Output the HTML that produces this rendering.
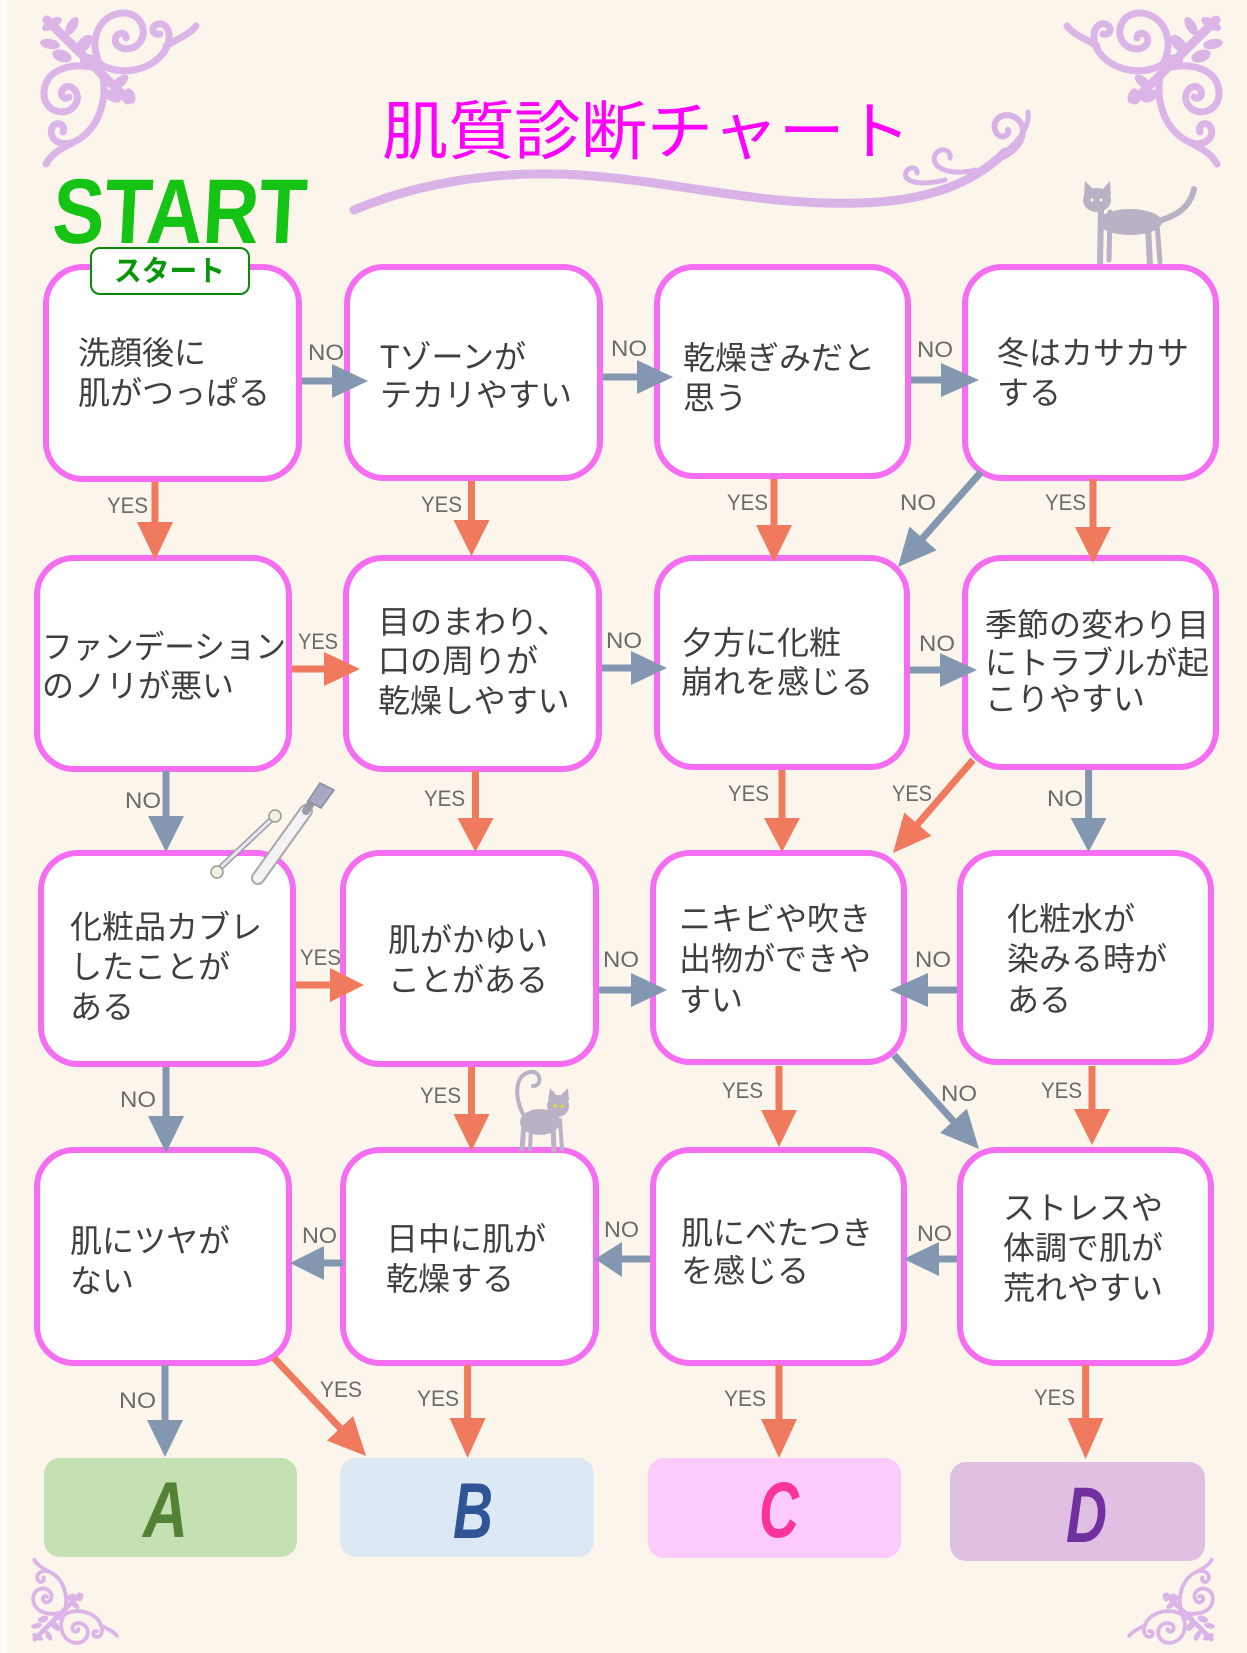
<!DOCTYPE html>
<html><head><meta charset="utf-8"><style>
html,body{margin:0;padding:0;background:#fcf5eb;}
svg{display:block;}
.q{font-family:"Liberation Sans","Noto Sans CJK JP",sans-serif;font-size:32px;fill:#3f3f3f;}
.l{font-family:"Liberation Sans",sans-serif;font-size:22px;fill:#6b6b6b;}
</style></head><body>
<svg width="1247" height="1653" viewBox="0 0 1247 1653" xmlns="http://www.w3.org/2000/svg">
<rect x="0" y="0" width="1247" height="1653" fill="#fcf5eb"/>
<rect x="0" y="0" width="7" height="1653" fill="#fffdf8"/>

<defs>
<g id="orn">
 <g fill="none" stroke="#dcb5e8" stroke-width="7" stroke-linecap="round">
  <path d="M100 64 C88 42 98 15 122 13 C143 12 150 36 136 46 C125 53 112 46 116 37 C119 31 127 33 126 38"/>
  <path d="M100 64 C118 76 150 72 164 52 C174 37 168 22 158 24 C150 26 152 36 160 34"/>
  <path d="M166 46 C178 38 188 36 196 26"/>
  <path d="M102 70 C82 62 46 64 44 92 C43 112 66 118 75 105 C82 95 72 82 64 88 C58 94 64 101 69 97"/>
  <path d="M102 72 C108 98 100 128 76 141 C62 148 48 140 52 128 C56 120 66 124 63 132"/>
  <path d="M72 143 C58 150 50 156 46 164"/>
  <path d="M47 20 L128 100" stroke-width="9"/>
 </g>
 <g fill="#dcb5e8">
  <ellipse cx="52" cy="24" rx="11" ry="5" transform="rotate(-30 52 24)"/>
  <ellipse cx="72" cy="26" rx="10" ry="5" transform="rotate(-60 72 26)"/>
  <ellipse cx="50" cy="44" rx="10" ry="5" transform="rotate(10 50 44)"/>
  <ellipse cx="84" cy="44" rx="11" ry="6" transform="rotate(-50 84 44)"/>
  <ellipse cx="62" cy="56" rx="10" ry="6" transform="rotate(20 62 56)"/>
  <ellipse cx="88" cy="60" rx="8" ry="6"/>
  <ellipse cx="120" cy="82" rx="10" ry="5" transform="rotate(-40 120 82)"/>
  <ellipse cx="112" cy="96" rx="10" ry="5" transform="rotate(30 112 96)"/>
  <ellipse cx="130" cy="96" rx="8" ry="5" transform="rotate(70 130 96)"/>
 </g>
</g>
</defs>
<use href="#orn"/>
<use href="#orn" transform="translate(1263 0) scale(-1 1)"/>
<use href="#orn" transform="translate(9 1650) scale(0.55 -0.55)"/>
<use href="#orn" transform="translate(1237 1650) scale(-0.55 -0.55)"/>

<!-- title swoosh -->
<g fill="none" stroke="#d9b3e7" stroke-linecap="round">
 <path d="M354 210 C420 182 500 170 580 175 C680 182 760 206 860 203 C930 201 975 182 1005 152" stroke-width="9"/>
 <path d="M1000 158 C1022 150 1030 128 1016 118 C1004 110 990 120 996 132 C1000 140 1010 136 1008 130" stroke-width="6"/>
 <path d="M975 170 C950 176 930 168 935 155 C940 146 952 150 950 158" stroke-width="5"/>
 <path d="M945 180 C920 186 902 182 906 172 C910 165 918 168 917 173" stroke-width="5"/>
 <path d="M1005 152 C1020 140 1030 125 1028 112" stroke-width="5"/>
</g>

<!-- Title -->
<text x="382" y="127" dominant-baseline="central" font-family="'Noto Sans CJK JP',sans-serif" font-size="64" fill="#ff00ff" textLength="529" lengthAdjust="spacingAndGlyphs">肌質診断チャート</text>

<!-- START -->
<text x="52" y="243" font-family="'Liberation Sans',sans-serif" font-weight="bold" font-size="92" fill="#14c314" textLength="254" lengthAdjust="spacingAndGlyphs" transform="translate(12 0) skewX(-3)">START</text>

<!-- cat 1 -->
<g fill="#b9b1c4" stroke="#b9b1c4" stroke-linecap="round">
 <path d="M1156 222 C1176 216 1190 208 1194 189" fill="none" stroke-width="6"/>
 <ellipse cx="1130" cy="222" rx="32" ry="13" stroke="none"/>
 <ellipse cx="1097" cy="200" rx="14" ry="12" stroke="none"/>
 <polygon points="1084,196 1085,181 1094,190" stroke="none"/>
 <polygon points="1102,190 1110,181 1111,196" stroke="none"/>
 <line x1="1101" y1="210" x2="1100" y2="263" stroke-width="6"/>
 <line x1="1110" y1="212" x2="1109" y2="260" stroke-width="5"/>
 <line x1="1148" y1="226" x2="1150" y2="266" stroke-width="6"/>
 <line x1="1157" y1="224" x2="1160" y2="262" stroke-width="5"/>
</g>
<circle cx="1092" cy="200" r="1.5" fill="#fff"/><circle cx="1101" cy="200" r="1.5" fill="#fff"/>

<!-- boxes -->
<g fill="#ffffff" stroke="#f56ef1" stroke-width="6">
 <rect x="46" y="267" width="253" height="212" rx="37"/>
 <rect x="347" y="267" width="253" height="211" rx="37"/>
 <rect x="657" y="267" width="251" height="209" rx="37"/>
 <rect x="965" y="267" width="251" height="211" rx="37"/>
 <rect x="37" y="558" width="252" height="211" rx="37"/>
 <rect x="346" y="558" width="253" height="211" rx="37"/>
 <rect x="657" y="558" width="250" height="209" rx="37"/>
 <rect x="965" y="558" width="251" height="209" rx="37"/>
 <rect x="41" y="853" width="252" height="211" rx="37"/>
 <rect x="343" y="853" width="253" height="211" rx="37"/>
 <rect x="653" y="853" width="251" height="209" rx="37"/>
 <rect x="960" y="853" width="251" height="209" rx="37"/>
 <rect x="37" y="1150" width="252" height="213" rx="37"/>
 <rect x="343" y="1150" width="253" height="213" rx="37"/>
 <rect x="653" y="1150" width="251" height="213" rx="37"/>
 <rect x="960" y="1150" width="251" height="213" rx="37"/>
</g>

<!-- start tag -->
<rect x="91" y="248" width="158" height="46" rx="9" fill="#ffffff" stroke="#0a8a0a" stroke-width="2"/>
<text x="114" y="269" dominant-baseline="central" font-family="'Noto Sans CJK JP',sans-serif" font-weight="bold" font-size="29" fill="#0a960a" textLength="111" lengthAdjust="spacingAndGlyphs">スタート</text>

<!-- tools -->
<g stroke-linecap="round">
 <line x1="258" y1="878" x2="306" y2="811" stroke="#a8a8a8" stroke-width="14"/>
 <line x1="258" y1="878" x2="306" y2="811" stroke="#f4f2f4" stroke-width="10"/>
 <line x1="306" y1="811" x2="313" y2="800" stroke="#9a9aa8" stroke-width="8"/>
 <polygon points="308,801 320,783 334,790 321,808" fill="#a9a8c2" stroke="#8a8aa0" stroke-width="1.5"/>
 <line x1="220" y1="868" x2="273" y2="818" stroke="#9a9aa8" stroke-width="6"/>
 <line x1="220" y1="868" x2="273" y2="818" stroke="#e8e6ee" stroke-width="3"/>
 <circle cx="217" cy="872" r="6" fill="#f3f0e0" stroke="#999" stroke-width="1.5"/>
 <circle cx="275" cy="816" r="6" fill="#f3f0e0" stroke="#999" stroke-width="1.5"/>
</g>

<!-- cat 2 -->
<g fill="#b9b1c4" stroke="#b9b1c4" stroke-linecap="round">
 <path d="M523 1114 C514 1095 515 1075 530 1072 C541 1070 543 1086 533 1086" fill="none" stroke-width="4"/>
 <ellipse cx="540" cy="1122" rx="20" ry="13" stroke="none"/>
 <circle cx="558" cy="1106" r="11" stroke="none"/>
 <polygon points="548,1100 550,1088 557,1096" stroke="none"/>
 <polygon points="560,1096 568,1088 569,1101" stroke="none"/>
 <line x1="524" y1="1124" x2="522" y2="1149" stroke-width="5"/>
 <line x1="531" y1="1128" x2="530" y2="1149" stroke-width="4"/>
 <line x1="553" y1="1124" x2="554" y2="1150" stroke-width="5"/>
 <line x1="560" y1="1120" x2="562" y2="1149" stroke-width="4"/>
</g>
<circle cx="555" cy="1106" r="1.6" fill="#e8e020"/><circle cx="562" cy="1106" r="1.6" fill="#e8e020"/>

<!-- question text -->
<text class="q" dominant-baseline="central">
 <tspan x="78" y="353">洗顔後に</tspan><tspan x="78" y="393">肌がつっぱる</tspan>
 <tspan x="380" y="357">Tゾーンが</tspan><tspan x="380" y="395">テカリやすい</tspan>
 <tspan x="683" y="358">乾燥ぎみだと</tspan><tspan x="683" y="398">思う</tspan>
 <tspan x="997" y="353">冬はカサカサ</tspan><tspan x="997" y="393">する</tspan>
 <tspan x="42" y="647" textLength="244" lengthAdjust="spacingAndGlyphs">ファンデーション</tspan><tspan x="42" y="686">のノリが悪い</tspan>
 <tspan x="378" y="622">目のまわり、</tspan><tspan x="378" y="661">口の周りが</tspan><tspan x="378" y="701">乾燥しやすい</tspan>
 <tspan x="681" y="643">夕方に化粧</tspan><tspan x="681" y="682">崩れを感じる</tspan>
 <tspan x="985" y="625">季節の変わり目</tspan><tspan x="985" y="663">にトラブルが起</tspan><tspan x="985" y="699">こりやすい</tspan>
 <tspan x="70" y="927">化粧品カブレ</tspan><tspan x="70" y="967">したことが</tspan><tspan x="70" y="1007">ある</tspan>
 <tspan x="388" y="940">肌がかゆい</tspan><tspan x="388" y="980">ことがある</tspan>
 <tspan x="679" y="919">ニキビや吹き</tspan><tspan x="679" y="959">出物ができや</tspan><tspan x="679" y="1000">すい</tspan>
 <tspan x="1007" y="919">化粧水が</tspan><tspan x="1007" y="959">染みる時が</tspan><tspan x="1007" y="1000">ある</tspan>
 <tspan x="70" y="1241">肌にツヤが</tspan><tspan x="70" y="1281">ない</tspan>
 <tspan x="386" y="1239">日中に肌が</tspan><tspan x="386" y="1279">乾燥する</tspan>
 <tspan x="681" y="1233">肌にべたつき</tspan><tspan x="681" y="1271">を感じる</tspan>
 <tspan x="1003" y="1208">ストレスや</tspan><tspan x="1003" y="1248">体調で肌が</tspan><tspan x="1003" y="1288">荒れやすい</tspan>
</text>

<!-- result boxes -->
<rect x="44" y="1458" width="253" height="99" rx="16" fill="#c5e0b3"/>
<rect x="340" y="1458" width="254" height="99" rx="16" fill="#dde8f5"/>
<rect x="648" y="1458" width="253" height="100" rx="16" fill="#fccbfc"/>
<rect x="950" y="1462" width="255" height="99" rx="16" fill="#dfbfe2"/>
<g font-family="'Liberation Sans',sans-serif" font-weight="bold" font-style="italic" font-size="79">
 <text x="143" y="1537" fill="#548235" textLength="45" lengthAdjust="spacingAndGlyphs">A</text>
 <text x="453" y="1538" fill="#2f5597" textLength="40" lengthAdjust="spacingAndGlyphs">B</text>
 <text x="759" y="1537" fill="#ff3399" textLength="40" lengthAdjust="spacingAndGlyphs">C</text>
 <text x="1066" y="1542" fill="#7030a0" textLength="41" lengthAdjust="spacingAndGlyphs">D</text>
</g>

<!-- arrows: gray -->
<g stroke="#8497b0" stroke-width="7" fill="none">
 <line x1="302" y1="381" x2="334" y2="381"/>
 <line x1="603" y1="377" x2="639" y2="377"/>
 <line x1="911" y1="380" x2="943" y2="380"/>
 <line x1="602" y1="668" x2="633" y2="668"/>
 <line x1="910" y1="670" x2="942" y2="670"/>
 <line x1="599" y1="990" x2="633" y2="990"/>
 <line x1="957" y1="990" x2="926" y2="990"/>
 <line x1="343" y1="1263" x2="322" y2="1263"/>
 <line x1="650" y1="1259" x2="620" y2="1259"/>
 <line x1="957" y1="1259" x2="937" y2="1259"/>
 <line x1="166" y1="771" x2="166" y2="818"/>
 <line x1="1088.6" y1="770" x2="1088.6" y2="820"/>
 <line x1="166" y1="1067" x2="166" y2="1118"/>
 <line x1="165" y1="1365" x2="165" y2="1422"/>
 <line x1="981" y1="472" x2="921" y2="540"/>
 <line x1="894" y1="1055" x2="955" y2="1123"/>
</g>
<g fill="#8497b0">
 <polygon points="332,364 332,398 368,381"/>
 <polygon points="637,360 637,394 673,377"/>
 <polygon points="941,363 941,397 979,380"/>
 <polygon points="631,651 631,685 667,668"/>
 <polygon points="940,653 940,687 977,670"/>
 <polygon points="631,973 631,1007 667,990"/>
 <polygon points="928,973 928,1007 890,990"/>
 <polygon points="324,1246 324,1280 290,1263"/>
 <polygon points="622,1242 622,1277 595,1259"/>
 <polygon points="939,1242 939,1276 903.5,1259"/>
 <polygon points="148,816 184,816 166,852"/>
 <polygon points="1070.6,818 1106.6,818 1088.6,852"/>
 <polygon points="148,1116 184,1116 166,1153"/>
 <polygon points="147,1420 183,1420 165,1457"/>
 <polygon points="898,567 936.6,550.2 909.4,526.6"/>
 <polygon points="979,1149 966.9,1108.7 940.1,1132.9"/>
</g>

<!-- arrows: orange -->
<g stroke="#f07a5e" stroke-width="7" fill="none">
 <line x1="155" y1="482" x2="155" y2="524"/>
 <line x1="471.5" y1="481" x2="471.5" y2="522"/>
 <line x1="774" y1="479" x2="774" y2="527"/>
 <line x1="1093" y1="479" x2="1093" y2="529"/>
 <line x1="292" y1="669" x2="326" y2="669"/>
 <line x1="475.5" y1="771" x2="475.5" y2="820"/>
 <line x1="782" y1="770" x2="782" y2="820"/>
 <line x1="296" y1="985" x2="332" y2="985"/>
 <line x1="471.5" y1="1067" x2="471.5" y2="1116"/>
 <line x1="779" y1="1066" x2="779" y2="1112"/>
 <line x1="1092" y1="1066" x2="1092" y2="1111"/>
 <line x1="467.6" y1="1365" x2="467.6" y2="1420"/>
 <line x1="779" y1="1365" x2="779" y2="1421"/>
 <line x1="1085.6" y1="1365" x2="1085.6" y2="1420"/>
 <line x1="973" y1="760" x2="916" y2="826"/>
 <line x1="274" y1="1358" x2="342" y2="1430"/>
</g>
<g fill="#f07a5e">
 <polygon points="137,522 173,522 155,560"/>
 <polygon points="453.5,520 489.5,520 471.5,556"/>
 <polygon points="756,525 792,525 774,562"/>
 <polygon points="1075,527 1111,527 1093,563"/>
 <polygon points="324,652 324,686 360,669"/>
 <polygon points="457.5,818 493.5,818 475.5,852"/>
 <polygon points="764,818 800,818 782,852"/>
 <polygon points="330,968 330,1002 364,985"/>
 <polygon points="453.5,1114 489.5,1114 471.5,1151"/>
 <polygon points="761,1110 797,1110 779,1147"/>
 <polygon points="1074,1109 1110,1109 1092,1145"/>
 <polygon points="449.6,1418 485.6,1418 467.6,1458"/>
 <polygon points="761,1419 797,1419 779,1458"/>
 <polygon points="1067.6,1418 1103.6,1418 1085.6,1459"/>
 <polygon points="893,853 931.4,835.9 904.2,812.5"/>
 <polygon points="366,1456 353.1,1416 326.9,1440.6"/>
</g>

<!-- labels -->
<g>
 <text class="l" x="308" y="360" textLength="36" lengthAdjust="spacingAndGlyphs">NO</text>
 <text class="l" x="611" y="356" textLength="36" lengthAdjust="spacingAndGlyphs">NO</text>
 <text class="l" x="917" y="357" textLength="36" lengthAdjust="spacingAndGlyphs">NO</text>
 <text class="l" x="900" y="510" textLength="36" lengthAdjust="spacingAndGlyphs">NO</text>
 <text class="l" x="107" y="513" textLength="41" lengthAdjust="spacingAndGlyphs">YES</text>
 <text class="l" x="421" y="512" textLength="41" lengthAdjust="spacingAndGlyphs">YES</text>
 <text class="l" x="727" y="510" textLength="41" lengthAdjust="spacingAndGlyphs">YES</text>
 <text class="l" x="1045" y="510" textLength="41" lengthAdjust="spacingAndGlyphs">YES</text>
 <text class="l" x="298" y="649" textLength="40" lengthAdjust="spacingAndGlyphs">YES</text>
 <text class="l" x="606" y="648" textLength="36" lengthAdjust="spacingAndGlyphs">NO</text>
 <text class="l" x="919" y="651" textLength="36" lengthAdjust="spacingAndGlyphs">NO</text>
 <text class="l" x="125" y="808" textLength="36" lengthAdjust="spacingAndGlyphs">NO</text>
 <text class="l" x="424" y="806" textLength="41" lengthAdjust="spacingAndGlyphs">YES</text>
 <text class="l" x="728" y="801" textLength="41" lengthAdjust="spacingAndGlyphs">YES</text>
 <text class="l" x="892" y="801" textLength="40" lengthAdjust="spacingAndGlyphs">YES</text>
 <text class="l" x="1047" y="806" textLength="36" lengthAdjust="spacingAndGlyphs">NO</text>
 <text class="l" x="300" y="965" textLength="41" lengthAdjust="spacingAndGlyphs">YES</text>
 <text class="l" x="603" y="967" textLength="36" lengthAdjust="spacingAndGlyphs">NO</text>
 <text class="l" x="915" y="967" textLength="36" lengthAdjust="spacingAndGlyphs">NO</text>
 <text class="l" x="120" y="1107" textLength="36" lengthAdjust="spacingAndGlyphs">NO</text>
 <text class="l" x="420" y="1103" textLength="41" lengthAdjust="spacingAndGlyphs">YES</text>
 <text class="l" x="722" y="1098" textLength="41" lengthAdjust="spacingAndGlyphs">YES</text>
 <text class="l" x="941" y="1101" textLength="36" lengthAdjust="spacingAndGlyphs">NO</text>
 <text class="l" x="1041" y="1098" textLength="41" lengthAdjust="spacingAndGlyphs">YES</text>
 <text class="l" x="302" y="1243" textLength="35" lengthAdjust="spacingAndGlyphs">NO</text>
 <text class="l" x="604" y="1237" textLength="35" lengthAdjust="spacingAndGlyphs">NO</text>
 <text class="l" x="917" y="1241" textLength="35" lengthAdjust="spacingAndGlyphs">NO</text>
 <text class="l" x="119" y="1408" textLength="37" lengthAdjust="spacingAndGlyphs">NO</text>
 <text class="l" x="320" y="1397" textLength="42" lengthAdjust="spacingAndGlyphs">YES</text>
 <text class="l" x="417" y="1406" textLength="42" lengthAdjust="spacingAndGlyphs">YES</text>
 <text class="l" x="724" y="1406" textLength="42" lengthAdjust="spacingAndGlyphs">YES</text>
 <text class="l" x="1034" y="1405" textLength="41" lengthAdjust="spacingAndGlyphs">YES</text>
</g>
</svg>
</body></html>
